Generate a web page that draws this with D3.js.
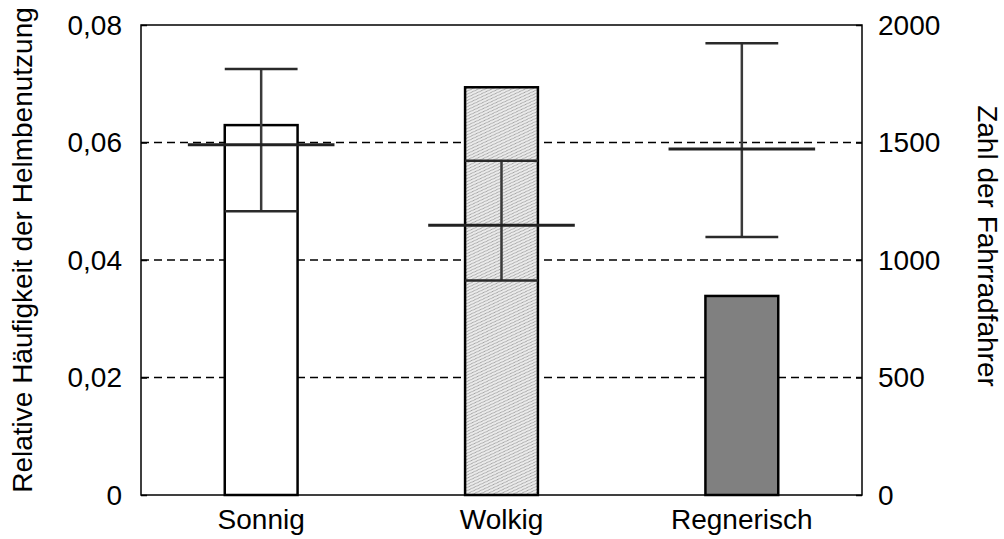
<!DOCTYPE html>
<html lang="de">
<head>
<meta charset="UTF-8" />
<title>Helmbenutzung nach Wetter</title>
<script src="https://d3js.org/d3.v7.min.js"></script>
<style>
    body { margin: 0; background: #fff; }
    svg text { font-family: "Liberation Sans", Arial, sans-serif; font-size: 28px; fill: #000; }
</style>
</head>
<body>
<svg id="chart" width="1004" height="539"></svg>
<script>
    // Daten
    const categories = ["Sonnig", "Wolkig", "Regnerisch"];
    const riders = [1574, 1735, 847];              // Zahl der Fahrradfahrer (rechte Achse)
    const helmetMean = [0.0596, 0.0459, 0.0589];   // relative Häufigkeit (linke Achse)
    const helmetLow = [0.0483, 0.0365, 0.0439];
    const helmetHigh = [0.0725, 0.0569, 0.0769];
    const leftTicks = [0, 0.02, 0.04, 0.06, 0.08];
    const rightTicks = [0, 500, 1000, 1500, 2000];
    const barFills = ["#ffffff", "url(#hatch)", "#808080"];

    const plot = { left: 141, right: 862, top: 25, bottom: 495 };
    const svg = d3.select("#chart");

    // Muster für "Wolkig"
    const pat = svg.append("defs").append("pattern")
        .attr("id", "hatch")
        .attr("patternUnits", "userSpaceOnUse")
        .attr("width", 4).attr("height", 4)
        .attr("patternTransform", "rotate(20)");
    pat.append("rect").attr("width", 4).attr("height", 4).attr("fill", "#ebebeb");
    pat.append("line").attr("x1", 0).attr("y1", 4).attr("x2", 4).attr("y2", 0)
        .attr("stroke", "#a0a0a0").attr("stroke-width", 1);

    const x = d3.scalePoint().domain(categories).range([plot.left, plot.right]).padding(0.5);
    const yLeft = d3.scaleLinear().domain([0, 0.08]).range([plot.bottom, plot.top]);
    const yRight = d3.scaleLinear().domain([0, 2000]).range([plot.bottom, plot.top]);

    const step = x.step();
    const barW = step * 0.303;
    const meanW = step * 0.61;

    // Gitterlinien
    svg.append("g").selectAll("line")
        .data(leftTicks.filter(t => t > 0 && t < 0.08))
        .join("line")
        .attr("x1", plot.left).attr("x2", plot.right)
        .attr("y1", d => yLeft(d)).attr("y2", d => yLeft(d))
        .attr("stroke", "#000").attr("stroke-width", 1.5)
        .attr("stroke-dasharray", "8,5");

    // Balken
    svg.append("g").selectAll("rect")
        .data(categories)
        .join("rect")
        .attr("x", d => x(d) - barW / 2)
        .attr("width", barW)
        .attr("y", (d, i) => yRight(riders[i]))
        .attr("height", (d, i) => yRight(0) - yRight(riders[i]))
        .attr("fill", (d, i) => barFills[i])
        .attr("stroke", "#000")
        .attr("stroke-width", 2.5);

    // Fehlerbalken
    const err = svg.append("g");
    categories.forEach((c, i) => {
        const cx = x(c);
        err.append("line")
            .attr("x1", cx).attr("x2", cx)
            .attr("y1", yLeft(helmetLow[i])).attr("y2", yLeft(helmetHigh[i]))
            .attr("stroke", "#3a3a3a").attr("stroke-width", 2.5);
        [helmetLow[i], helmetHigh[i]].forEach(v => {
            err.append("line")
                .attr("x1", cx - barW / 2).attr("x2", cx + barW / 2)
                .attr("y1", yLeft(v)).attr("y2", yLeft(v))
                .attr("stroke", "#2a2a2a").attr("stroke-width", 2.5);
        });
        err.append("line")
            .attr("x1", cx - meanW / 2).attr("x2", cx + meanW / 2)
            .attr("y1", yLeft(helmetMean[i])).attr("y2", yLeft(helmetMean[i]))
            .attr("stroke", "#222").attr("stroke-width", 3);
    });

    // Rahmen
    svg.append("rect")
        .attr("x", plot.left).attr("y", plot.top)
        .attr("width", plot.right - plot.left).attr("height", plot.bottom - plot.top)
        .attr("fill", "none").attr("stroke", "#000").attr("stroke-width", 1.5);

    // Achsen
    const axisL = svg.append("g")
        .attr("transform", `translate(${plot.left},0)`)
        .call(d3.axisRight(yLeft).tickValues(leftTicks).tickSize(6).tickFormat(() => ""));
    const axisR = svg.append("g")
        .attr("transform", `translate(${plot.right},0)`)
        .call(d3.axisLeft(yRight).tickValues(rightTicks).tickSize(6).tickFormat(() => ""));
    [axisL, axisR].forEach(a => {
        a.select(".domain").remove();
        a.selectAll("line").attr("stroke", "#000").attr("stroke-width", 1.5);
    });

    const fmt = d => d === 0 ? "0" : d3.format(".2f")(d).replace(".", ",");
    svg.append("g").selectAll("text")
        .data(leftTicks)
        .join("text")
        .attr("x", plot.left - 19)
        .attr("y", d => yLeft(d))
        .attr("dy", "0.35em")
        .attr("text-anchor", "end")
        .text(fmt);

    svg.append("g").selectAll("text")
        .data(rightTicks)
        .join("text")
        .attr("x", plot.right + 16)
        .attr("y", d => yRight(d))
        .attr("dy", "0.35em")
        .text(d => d);

    svg.append("g").selectAll("text")
        .data(categories)
        .join("text")
        .attr("x", d => x(d))
        .attr("y", 529)
        .attr("text-anchor", "middle")
        .text(d => d);

    // Achsentitel
    svg.append("text")
        .attr("transform", `translate(32,250) rotate(-90)`)
        .attr("text-anchor", "middle")
        .text("Relative Häufigkeit der Helmbenutzung");

    svg.append("text")
        .attr("transform", `translate(978,246) rotate(90)`)
        .attr("text-anchor", "middle")
        .text("Zahl der Fahrradfahrer");
</script>
</body>
</html>
